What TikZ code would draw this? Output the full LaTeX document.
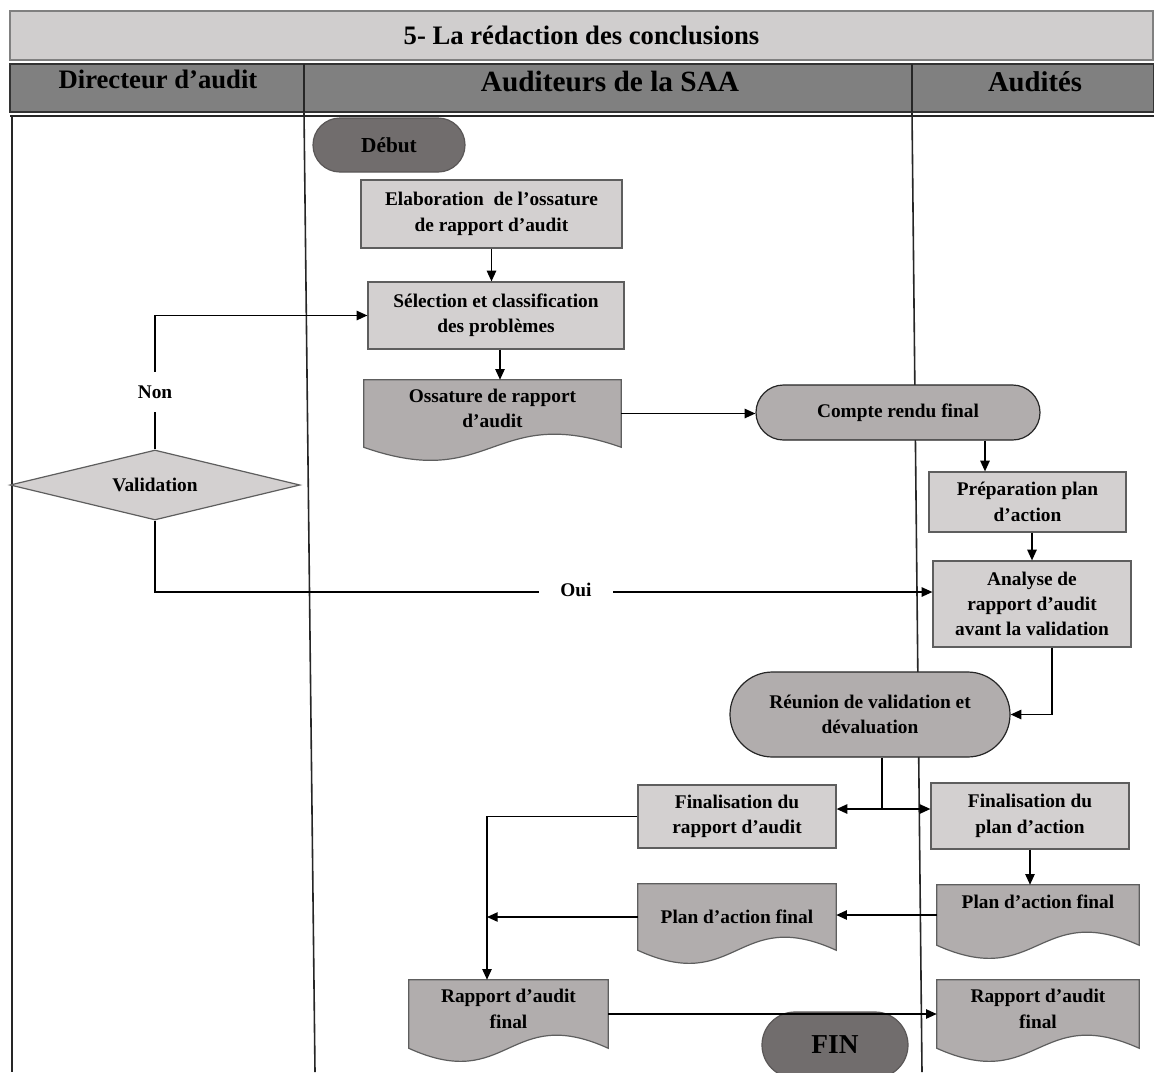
\documentclass[tikz,border=0pt]{standalone}
\usepackage{fontspec}
\setmainfont{Liberation Serif}
\usetikzlibrary{arrows.meta,shapes.geometric,shapes.misc}

\definecolor{boxgray}{HTML}{D3D0D0}
\definecolor{docgray}{HTML}{B1ADAD}
\definecolor{termgray}{HTML}{716D6D}
\definecolor{titlegray}{HTML}{D0CECE}
\definecolor{headgray}{HTML}{808080}
\definecolor{edgegray}{HTML}{5E5E5E}

\pgfdeclarelayer{lanes}
\pgfdeclarelayer{docs}
\pgfsetlayers{lanes,docs,main}

% document symbol: straight top and sides, wavy bottom edge
\newcommand\docshape[1]{%
  \path[docline] (#1.north west) -- (#1.north east) -- (#1.south east)
    .. controls ([yshift=34pt]#1.south) and ([yshift=-34pt]#1.south) .. (#1.south west) -- cycle;}

\begin{document}
\begin{tikzpicture}[x=0.75pt,y=-0.75pt,
  txt/.style={font=\fontsize{14.5}{19}\selectfont\bfseries, align=center, inner sep=0pt},
  procbox/.style={txt, rectangle, draw=edgegray, line width=0.9pt, fill=boxgray},
  docnode/.style={txt, rectangle},
  docline/.style={draw=edgegray, line width=0.9pt, fill=docgray},
  pill/.style={txt, rounded rectangle, draw=black!85, line width=0.9pt, fill=docgray},
  term/.style={pill, fill=termgray, draw=termgray!80!black},
  decision/.style={txt, diamond, shape aspect=4.1, draw=edgegray, line width=0.9pt, fill=boxgray},
  flow/.style={line width=1.1pt, -{Triangle[length=8pt,width=7pt]}},
  link/.style={line width=1.1pt},
  tag/.style={txt, fill=white, inner sep=3pt},
  lane/.style={line width=1.2pt, draw=black!85},
  headtxt/.style={font=\fontsize{#1}{#1}\selectfont\bfseries, anchor=base, inner sep=0pt}
]
\path[use as bounding box] (0,0) rectangle (1154,1072);
\clip (0,0) rectangle (1154,1072);

% swimlane frame
\begin{pgfonlayer}{lanes}
  \fill[white] (0,0) rectangle (1154,1072);
  \draw[lane] (12,116) -- (12,1072);
  \draw[lane] (304,112) -- (315,1072);
  \draw[lane] (912,112) -- (922,1072);
  \draw[lane] (10,116) -- (1154,116);
\end{pgfonlayer}

% title bar and lane headers
\node[rectangle, draw=gray, line width=1.1pt, fill=titlegray, minimum width=857.25pt,
      minimum height=36.75pt, inner sep=0pt, font=\fontsize{20}{20}\selectfont\bfseries]
      (title) at (581.5,35.5) {5- La rédaction des conclusions};
\node[rectangle, draw=black!80, line width=1.2pt, fill=headgray, minimum width=858pt,
      minimum height=36pt, inner sep=0pt] (head) at (582,88) {};
\draw[lane] (304,64) -- (304,112);
\draw[lane] (912,64) -- (912,112);
\node[headtxt=20] (hdir) at (158,88) {Directeur d’audit};
\node[headtxt=22] (haud) at (610,91) {Auditeurs de la SAA};
\node[headtxt=21.5] (hres) at (1035,91) {Audités};

% process steps
\node[term, minimum width=114pt, minimum height=40.5pt, font=\fontsize{16}{16}\selectfont\bfseries]
      (debut) at (389,145) {Début};
\node[procbox, minimum width=195.75pt, minimum height=51pt] (elab) at (491.5,214)
      {Elaboration~ de l’ossature\\de rapport d’audit};
\node[procbox, minimum width=192pt, minimum height=50.25pt] (sel) at (496,315.5)
      {Sélection et classification\\des problèmes};
\node[docnode, minimum width=192.75pt, minimum height=50.25pt] (oss) at (492.5,413.5)
      {Ossature de rapport\\d’audit\\[-17pt]\strut};
\node[pill, minimum width=213pt, minimum height=41.25pt] (crf) at (898,412.5)
      {Compte rendu final};
\node[procbox, minimum width=147.75pt, minimum height=45pt] (prep) at (1027.5,502)
      {Préparation plan\\d’action};
\node[procbox, minimum width=148.5pt, minimum height=64.5pt] (ana) at (1032,604)
      {Analyse de\\rapport d’audit\\avant la validation};
\node[pill, minimum width=210pt, minimum height=63.75pt] (reu) at (870,714.5)
      {Réunion de validation et\\dévaluation};
\node[procbox, minimum width=148.5pt, minimum height=47.25pt] (finR) at (737,816.5)
      {Finalisation du\\rapport d’audit};
\node[procbox, minimum width=148.5pt, minimum height=49.5pt] (finP) at (1030,816)
      {Finalisation du\\plan d’action};
\node[docnode, minimum width=151.5pt, minimum height=45pt] (planR) at (1038,915)
      {Plan d’action final\\[-5pt]\strut};
\node[docnode, minimum width=148.5pt, minimum height=49.5pt] (planL) at (737,917)
      {Plan d’action final};
\node[docnode, minimum width=149.25pt, minimum height=51pt] (rapL) at (508.5,1014)
      {Rapport d’audit\\final\\[-17pt]\strut};
\node[docnode, minimum width=151.5pt, minimum height=51pt] (rapR) at (1038,1014)
      {Rapport d’audit\\final\\[-17pt]\strut};
\node[term, minimum width=109.5pt, minimum height=49.5pt, font=\fontsize{20.5}{20.5}\selectfont\bfseries]
      (fin) at (835,1045) {FIN};
\node[decision, minimum width=217.5pt, minimum height=52.5pt] (valid) at (155,485)
      {Validation};

% document outlines behind their labels
\begin{pgfonlayer}{docs}
  \docshape{oss}
  \docshape{planR}
  \docshape{planL}
  \docshape{rapL}
  \docshape{rapR}
\end{pgfonlayer}

% connectors
\draw[flow] (elab.south) -- (elab.south |- sel.north);
\draw[flow] ([xshift=3pt]sel.south) -- ([xshift=3pt]sel.south |- oss.north);
\draw[flow] (oss.east) -- (oss.east -| crf.west);
\draw[flow] ([xshift=65.25pt]crf.south) -- ([xshift=65.25pt]crf.south |- prep.north);
\draw[flow] (ana.north |- prep.south) -- (ana.north);
\draw[flow] ([xshift=15pt]ana.south) |- (reu.east);
\coordinate (split) at (882,809);
\draw[link] (split |- reu.south) -- (split);
\draw[flow] (split) -- (split -| finR.east);
\draw[flow] (split) -- (split -| finP.west);
\draw[flow] (finP.south) -- (finP.south |- planR.north);
\draw[flow] (planR.west) -- (planR.west -| planL.east);
\coordinate (trunk) at (487,812);
\draw[flow] (finR.west) -| (trunk |- rapL.north);
\draw[flow] (planL.west) -- (planL.west -| trunk);
\draw[flow] (rapL.east) -- (rapR.west);
\draw[flow] (valid.north) |- (sel.west);
\draw[flow] (valid.south) |- ([yshift=9pt]ana.west);
\node[tag, inner ysep=10pt] (non) at (155,392) {Non};
\node[tag, inner xsep=16pt] (oui) at (576,590) {Oui};
\end{tikzpicture}
\end{document}
